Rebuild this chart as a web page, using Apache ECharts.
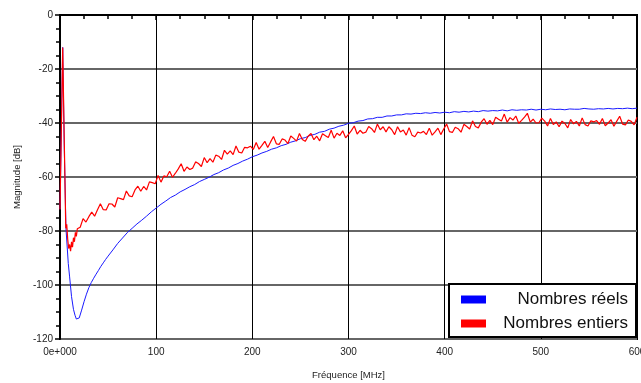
<!DOCTYPE html>
<html><head><meta charset="utf-8">
<script src="https://cdn.jsdelivr.net/npm/echarts@6/dist/echarts.min.js"></script>
<style>html,body{margin:0;padding:0;background:#fff}#c{width:641px;height:383px}</style>
</head><body><div id="c"></div>
<script>
const seriesNames = ['Nombres réels', 'Nombres entiers'];
const yTicks = [0, -20, -40, -60, -80, -100, -120];
const xTicks = [0, 100, 200, 300, 400, 500, 600];

const blueFreq = [0,1.5,2.8,4.5,6.2,8.6,10,12,14,15.6,17,18.4,20,22.5,25,27.5,30,32.5,35,37.5,40,42.5,45,47.5,50,
55,60,65,70,75,80,85,90,95,100,105,110,115,120,125,130,135,140,145,150,155,160,165,170,175,180,185,190,195,200,
205,210,215,220,225,230,235,240,245,250,255,260,265,270,275,280,285,290,295,300,305,310,315,320,325,330,335,340,345,350,
355,360,365,370,375,380,385,390,395,400,405,410,415,420,425,430,435,440,445,450,455,460,465,470,475,480,485,490,495,500,
505,510,515,520,525,530,535,540,545,550,555,560,565,570,575,580,585,590,595,600];
const blueDb = [-72,-40,-12,-50,-79,-92,-97,-104.3,-109,-111.2,-112.6,-113.3,-112.2,-109.3,-106.2,-103.4,-101,-99.1,-97.5,-96,-94.6,-93.1,-91.8,-90.5,-89.3,
-87,-84.6,-82.6,-80.6,-79,-77.4,-76,-74.5,-72.9,-71.5,-70.1,-68.9,-67.6,-66.7,-65.5,-64.6,-63.6,-62.8,-61.7,-60.9,-60.1,-59.1,-58.4,-57.4,-56.7,-55.7,-55,-54.1,-53.4,-52.5,
-51.9,-51.1,-50.5,-49.7,-49.2,-48.4,-47.9,-47.1,-46.6,-45.8,-45.4,-44.6,-44.2,-43.4,-43.1,-42.3,-41.9,-41.2,-40.8,-40.1,-39.9,-39.3,-39.1,-38.5,-38.4,-37.9,-37.9,-37.4,-37.4,-37,
-37,-36.6,-36.7,-36.4,-36.5,-36.2,-36.4,-36.1,-36.3,-36,-36.2,-35.8,-36,-35.7,-35.9,-35.6,-35.8,-35.4,-35.6,-35.4,-35.5,-35.2,-35.5,-35.1,-35.3,-35.1,-35.2,-34.9,-35.2,-34.9,
-35.1,-34.8,-35,-34.9,-35.1,-34.8,-34.9,-34.9,-34.6,-34.8,-34.9,-34.7,-34.8,-34.6,-34.8,-34.6,-34.7,-34.5,-34.7,-34.5];

const redFreq = [0,1.5,2.8,4.5,6,7,8,9,10,11,12,13,14,15,16,17,
18,21,24,27,30,33,36,39,42,45,48,51,54,57,60,63,66,69,72,75,78,81,84,87,90,93,96,99,
102,105,108,111,114,117,120,123,126,129,132,135,138,141,144,147,150,153,156,159,162,165,168,171,174,177,180,183,186,189,192,195,198,
201,204,207,210,213,216,219,222,225,228,231,234,237,240,243,246,249,252,255,258,261,264,267,270,273,276,279,282,285,288,291,294,297,300,
303,306,309,312,315,318,321,324,327,330,333,336,339,342,345,348,351,354,357,360,363,366,369,372,375,378,381,384,387,390,393,396,399,
402,405,408,411,414,417,420,423,426,429,432,435,438,441,444,447,450,453,456,459,462,465,468,471,474,477,480,483,486,489,492,495,498,
501,504,507,510,513,516,519,522,525,528,531,534,537,540,543,546,549,552,555,558,561,564,567,570,573,576,579,582,585,588,591,594,597,600];
const redDb = [-72,-40,-12,-48,-79,-77.5,-83,-86.5,-85,-87.5,-84,-86,-82.5,-84,-80.5,-82,
-79.2,-78.6,-75.4,-76.7,-74.7,-73.0,-74.5,-72.1,-69.9,-72.1,-72.2,-69.9,-70.0,-71.1,-67.7,-68.0,-68.4,-65.2,-67.0,-67.3,-64.8,-63.4,-65.3,-63.5,-64.8,-61.8,-62.1,-62.5,
-59.4,-61.9,-59.6,-59.9,-57.9,-60.1,-58.6,-57.0,-55.1,-57.9,-56.3,-57.2,-56.7,-54.4,-55.0,-56.1,-52.8,-54.7,-53.2,-54.5,-51.9,-52.3,-53.5,-50.1,-51.5,-50.3,-51.7,-48.5,-50.8,-51.1,-49.0,-49.2,-48.6,
-49.8,-47.2,-49.7,-48.3,-46.8,-49.1,-47.0,-45.0,-47.7,-47.9,-45.9,-46.3,-47.6,-44.8,-45.7,-46.7,-43.9,-46.1,-46.8,-44.9,-43.9,-46.2,-44.9,-46.6,-44.0,-44.7,-45.4,-42.7,-45.6,-43.8,-44.6,-42.9,-45.5,-44.2,
-42.8,-41.1,-44.1,-42.7,-43.8,-43.4,-41.3,-42.1,-43.5,-40.4,-42.5,-41.4,-43.3,-41.4,-42.5,-44.3,-41.4,-43.3,-42.6,-44.5,-41.7,-44.5,-45.1,-43.4,-43.7,-43.1,-44.3,-41.9,-44.5,-43.3,-41.9,-44.3,-42.2,
-40.4,-43.2,-43.5,-41.6,-42.1,-43.4,-40.5,-41.3,-42.2,-39.2,-41.3,-41.8,-39.7,-38.4,-40.5,-39.0,-40.6,-37.9,-38.6,-39.3,-36.7,-39.7,-38.0,-38.9,-37.4,-40.1,-39.0,-37.8,-36.4,-39.7,-38.6,-40.0,-39.9,
-38.2,-39.3,-41.1,-38.3,-40.6,-39.6,-41.4,-39.3,-40.2,-41.8,-38.7,-40.3,-39.4,-41.1,-38.1,-40.6,-41.1,-39.2,-39.6,-39.1,-40.5,-38.3,-41.0,-40.0,-38.8,-41.2,-39.3,-37.5,-40.4,-40.7,-38.9,-39.4,-40.7,-37.9];

const zip = (a, b) => a.map((v, i) => [v, b[i]]);

const chart = echarts.init(document.getElementById('c'), null, {renderer: 'canvas'});
const FONT = 'Liberation Sans';
chart.setOption({
  animation: false,
  backgroundColor: '#fff',
  grid: {left: 60, right: 4, top: 15, bottom: 44, show: true, borderColor: '#000', borderWidth: 2, backgroundColor: '#fff',
    outerBoundsMode: 'none', containLabel: false},
  legend: {
    orient: 'vertical', left: 449, top: 284,
    backgroundColor: '#fff', borderColor: '#000', borderWidth: 2, borderRadius: 0,
    padding: [7, 8, 5, 12], itemGap: 7, itemWidth: 25, itemHeight: 8, icon: 'rect',
    data: seriesNames,
    formatter: '{a|{name}}',
    textStyle: {fontFamily: FONT, fontSize: 17, color: '#111',
      rich: {a: {width: 137, align: 'right', fontFamily: FONT, fontSize: 17, color: '#111', lineHeight: 16}}}
  },
  xAxis: {
    type: 'value', min: 0, max: 600, interval: 100,
    name: 'Fréquence [MHz]', nameLocation: 'middle', nameGap: 31,
    nameTextStyle: {fontFamily: FONT, fontSize: 9.5, color: '#222'},
    axisLine: {lineStyle: {color: '#000', width: 2}},
    axisTick: {show: true, length: 5, lineStyle: {color: '#000', width: 1.5}},
    minorTick: {show: true, splitNumber: 4, length: 4, lineStyle: {color: '#000', width: 1.5}},
    axisLabel: {fontFamily: FONT, fontSize: 10, color: '#222', margin: 8,
      formatter: v => (xTicks.indexOf(v) === 0 ? '0e+000' : String(v))},
    splitLine: {show: true, lineStyle: {color: '#000', width: 1}}
  },
  yAxis: {
    type: 'value', min: -120, max: 0, interval: 20,
    name: 'Magnitude [dB]', nameLocation: 'middle', nameGap: 38, nameRotate: 90,
    nameTextStyle: {fontFamily: FONT, fontSize: 9.5, color: '#222'},
    axisLine: {lineStyle: {color: '#000', width: 2}},
    axisTick: {show: true, length: 5, lineStyle: {color: '#000', width: 1.5}},
    minorTick: {show: true, splitNumber: 4, length: 4, lineStyle: {color: '#000', width: 1.5}},
    axisLabel: {fontFamily: FONT, fontSize: 10, color: '#222', margin: 7,
      formatter: v => (yTicks.indexOf(v) >= 0 ? String(v) : '')},
    splitLine: {show: true, lineStyle: {color: '#666', width: 2}}
  },
  series: [
    {name: seriesNames[0], type: 'line', data: zip(blueFreq, blueDb), showSymbol: false, symbol: 'none',
      color: '#0000ff', lineStyle: {color: '#1a1aff', width: 1}, z: 2},
    {name: seriesNames[1], type: 'line', data: zip(redFreq, redDb), showSymbol: false, symbol: 'none',
      color: '#ff0000', lineStyle: {color: '#ff0000', width: 1.2}, z: 3}
  ]
});
</script></body></html>
